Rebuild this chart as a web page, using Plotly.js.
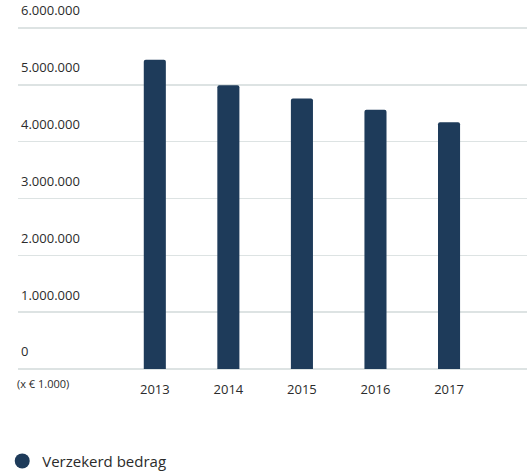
<!DOCTYPE html>
<html>
<head>
<meta charset="utf-8">
<script src="https://cdn.plot.ly/plotly-3.0.1.min.js"></script>
<style>html,body{margin:0;padding:0;background:#fff;}#chart{width:527px;height:472px;}</style>
</head>
<body>
<div id="chart"></div>
<script>
const years = ["2013", "2014", "2015", "2016", "2017"];
const verzekerdBedrag = [5440000, 4995000, 4760000, 4560000, 4340000];
const seriesName = "Verzekerd bedrag";
const yTickVals = [0, 1000000, 2000000, 3000000, 4000000, 5000000, 6000000];
const yTickText = ["0", "1.000.000", "2.000.000", "3.000.000", "4.000.000", "5.000.000", "6.000.000"];
const unitLabel = "(x € 1.000)";

const barColor = "#1e3b5a";
const textColor = "#2b2b2b";
const font = "'Open Sans', sans-serif";

const traces = [
  {
    type: "bar",
    x: years,
    y: verzekerdBedrag,
    width: 0.3,
    marker: { color: barColor, cornerradius: 2 },
    showlegend: false,
    hoverinfo: "x+y"
  },
  {
    type: "scatter",
    mode: "markers",
    x: [null],
    y: [null],
    name: seriesName,
    marker: { color: barColor, size: 15, symbol: "circle" },
    showlegend: true
  }
];

const layout = {
  width: 527,
  height: 472,
  margin: { l: 18, r: 0, t: 0, b: 103 },
  paper_bgcolor: "#ffffff",
  plot_bgcolor: "#ffffff",
  font: { family: font, size: 13, color: textColor },
  xaxis: {
    type: "category",
    range: [-1.86, 5.06],
    showgrid: false,
    zeroline: false,
    showline: false,
    ticks: "",
    ticklabelstandoff: 11,
    tickfont: { family: font, size: 13, color: textColor },
    fixedrange: true
  },
  yaxis: {
    range: [0, 6493000],
    tickvals: yTickVals,
    ticktext: yTickText,
    showgrid: true,
    gridcolor: "#dde3e3",
    gridwidth: 1.5,
    zeroline: true,
    zerolinecolor: "#dde3e3",
    zerolinewidth: 1.5,
    showline: false,
    ticks: "",
    ticklabelposition: "inside top",
    ticklabelshift: -8,
    tickfont: { family: font, size: 13, color: textColor },
    fixedrange: true
  },
  showlegend: true,
  legend: {
    orientation: "h",
    x: -0.031,
    xanchor: "left",
    yref: "container",
    y: 0.023,
    yanchor: "middle",
    font: { family: font, size: 15, color: textColor },
    itemsizing: "trace",
    bgcolor: "rgba(0,0,0,0)"
  },
  annotations: [
    {
      text: unitLabel,
      xref: "paper",
      yref: "paper",
      x: -0.006,
      y: 0,
      xanchor: "left",
      yanchor: "top",
      yshift: -5,
      showarrow: false,
      font: { family: font, size: 11, color: textColor }
    }
  ],
  bargap: 0.7
};

Plotly.newPlot("chart", traces, layout, { displayModeBar: false, staticPlot: true });
</script>
</body>
</html>
